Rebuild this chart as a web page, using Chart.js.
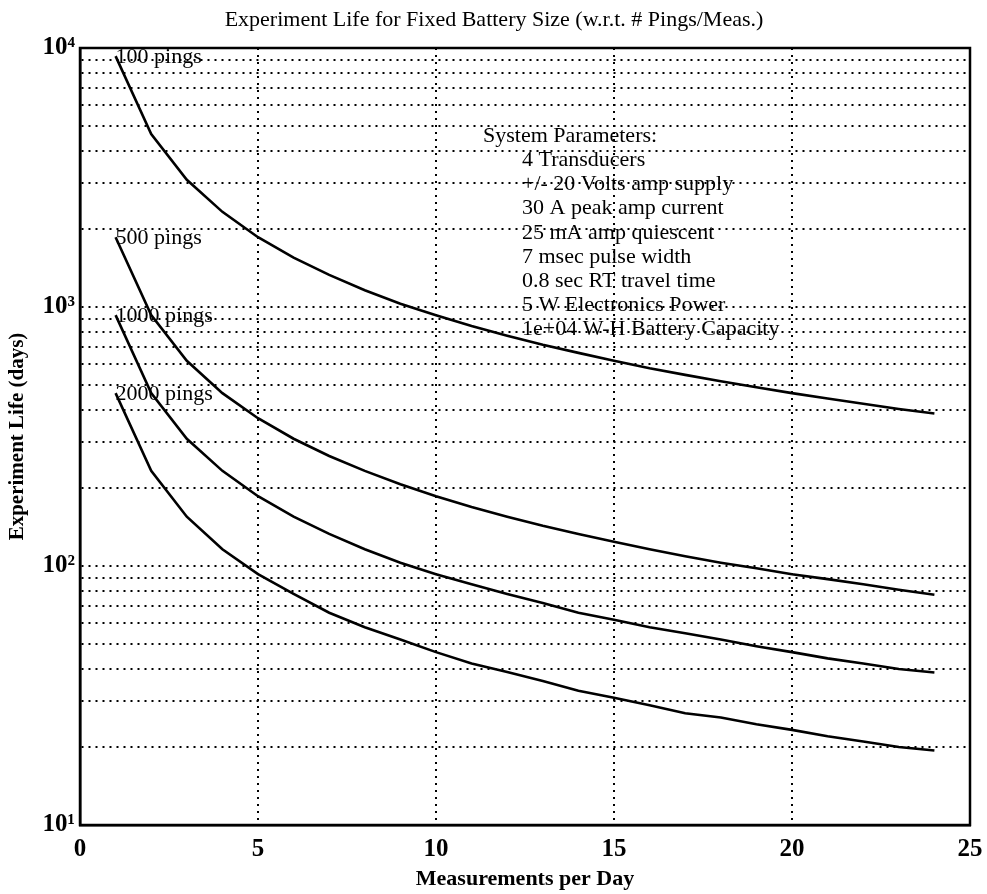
<!DOCTYPE html>
<html>
<head>
<meta charset="utf-8">
<script src="https://cdn.jsdelivr.net/npm/chart.js@4.4.1/dist/chart.umd.min.js"></script>
<style>
  html, body { margin: 0; padding: 0; background: #fff; }
  #wrap { width: 987px; height: 894px; position: relative; }
</style>
</head>
<body>
<div id="wrap"><canvas id="lifeChart"></canvas></div>
<script>
'use strict';

// ─── Data ────────────────────────────────────────────────────
const measPerDay = [1, 2, 3, 4, 5, 6, 7, 8, 9, 10, 11, 12, 13, 14, 15, 16, 17, 18, 19, 20, 21, 22, 23, 24];

const life100 = [9300, 4650, 3100, 2330, 1860, 1550, 1330, 1160, 1030, 930, 845, 775,
                 715, 665, 620, 580, 547, 517, 490, 465, 443, 423, 404, 388];
const life500 = [1860, 930, 620, 465, 372, 310, 266, 233, 207, 186, 169, 155,
                 143, 133, 124, 116, 109, 103, 98, 93, 89, 85, 81, 77.5];
const life1000 = [930, 465, 310, 233, 186, 155, 133, 116, 103, 93, 85, 78,
                  72, 66, 62, 58, 55, 52, 49, 46.5, 44, 42, 40, 38.8];
const life2000 = [465, 233, 155, 116, 93, 78, 66, 58, 52, 46.5, 42, 39,
                  36, 33, 31, 29, 27, 26, 24.5, 23.3, 22, 21, 20, 19.4];

const curveLabels = ['100 pings', '500 pings', '1000 pings', '2000 pings'];
const curveSeries = [life100, life500, life1000, life2000];

const xTickValues = [0, 5, 10, 15, 20, 25];
const yTickValues = [10, 20, 30, 40, 50, 60, 70, 80, 90,
                     100, 200, 300, 400, 500, 600, 700, 800, 900,
                     1000, 2000, 3000, 4000, 5000, 6000, 7000, 8000, 9000, 10000];
const yMajorLabels = { 10: '10¹', 100: '10²', 1000: '10³', 10000: '10⁴' };

const paramLines = [
    'System Parameters:',
    '4 Transducers',
    '+/- 20 Volts amp supply',
    '30 A peak amp current',
    '25 mA amp quiescent',
    '7 msec pulse width',
    '0.8 sec RT travel time',
    '5 W Electronics Power',
    '1e+04 W-H Battery Capacity'
];

const chartTitle = 'Experiment Life for Fixed Battery Size (w.r.t. # Pings/Meas.)';
const xTitle = 'Measurements per Day';
const yTitle = 'Experiment Life (days)';

const SERIF = '"Liberation Serif", "DejaVu Serif", serif';

// ─── Text overlay: title, curve labels, parameter block, frame ──
const overlay = {
    id: 'overlay',
    afterDraw(chart) {
        const { ctx, chartArea: a, scales } = chart;
        ctx.save();

        // frame
        ctx.strokeStyle = '#000';
        ctx.lineWidth = 2.5;
        ctx.setLineDash([]);
        ctx.strokeRect(a.left, a.top, a.right - a.left, a.bottom - a.top);

        ctx.fillStyle = '#000';
        ctx.textBaseline = 'middle';

        // title
        ctx.font = '22px ' + SERIF;
        ctx.textAlign = 'center';
        ctx.fillText(chartTitle, 494, 20);

        // curve labels at the first point of each curve
        ctx.font = '22px ' + SERIF;
        ctx.textAlign = 'left';
        curveSeries.forEach((s, i) => {
            const px = scales.x.getPixelForValue(measPerDay[0]);
            const py = scales.y.getPixelForValue(s[0]);
            ctx.fillText(curveLabels[i], px, py + 1);
        });

        // system parameters block
        ctx.font = '22px ' + SERIF;
        paramLines.forEach((line, i) => {
            const px = i === 0 ? 483 : 522;
            ctx.fillText(line, px, 136 + i * 24.2);
        });

        ctx.restore();
    }
};

function buildDatasets() {
    return curveSeries.map((s, i) => ({
        label: curveLabels[i],
        data: measPerDay.map((m, j) => ({ x: m, y: s[j] })),
        borderColor: '#000',
        borderWidth: 2.6,
        pointRadius: 0,
        tension: 0,
        fill: false
    }));
}

const ctx = document.getElementById('lifeChart');
new Chart(ctx, {
    type: 'line',
    data: { datasets: buildDatasets() },
    options: {
        responsive: true,
        maintainAspectRatio: false,
        animation: false,
        layout: { padding: { top: 48, right: 17, left: 0, bottom: 0 } },
        plugins: {
            legend: { display: false },
            tooltip: { enabled: false }
        },
        scales: {
            x: {
                type: 'linear',
                min: 0, max: 25,
                afterFit: s => { s.height = 69; s.paddingRight = 0; s.paddingLeft = 0; },
                afterBuildTicks: s => { s.ticks = xTickValues.map(v => ({ value: v })); },
                grid: { color: '#000', lineWidth: 2, drawTicks: false },
                border: { display: true, color: '#000', width: 2.5, dash: [2, 5] },
                ticks: {
                    padding: 10,
                    color: '#000',
                    font: { family: SERIF, size: 25, weight: 'bold' },
                    maxRotation: 0
                },
                title: {
                    display: true,
                    text: xTitle,
                    color: '#000',
                    font: { family: SERIF, size: 22, weight: 'bold' },
                    padding: { top: 0, bottom: 1 }
                }
            },
            y: {
                type: 'logarithmic',
                min: 10, max: 10000,
                afterFit: s => { s.width = 80; s.paddingTop = 0; s.paddingBottom = 0; },
                afterBuildTicks: s => { s.ticks = yTickValues.map(v => ({ value: v })); },
                grid: { color: '#000', lineWidth: 2, drawTicks: false },
                border: { display: true, color: '#000', width: 2.5, dash: [2, 5] },
                ticks: {
                    padding: 5,
                    autoSkip: false,
                    color: '#000',
                    font: { family: SERIF, size: 25, weight: 'bold' },
                    callback: v => yMajorLabels[v] || ''
                },
                title: {
                    display: true,
                    text: yTitle,
                    color: '#000',
                    font: { family: SERIF, size: 21, weight: 'bold' },
                    padding: { top: 5, bottom: 0 }
                }
            }
        }
    },
    plugins: [overlay]
});
</script>
</body>
</html>
